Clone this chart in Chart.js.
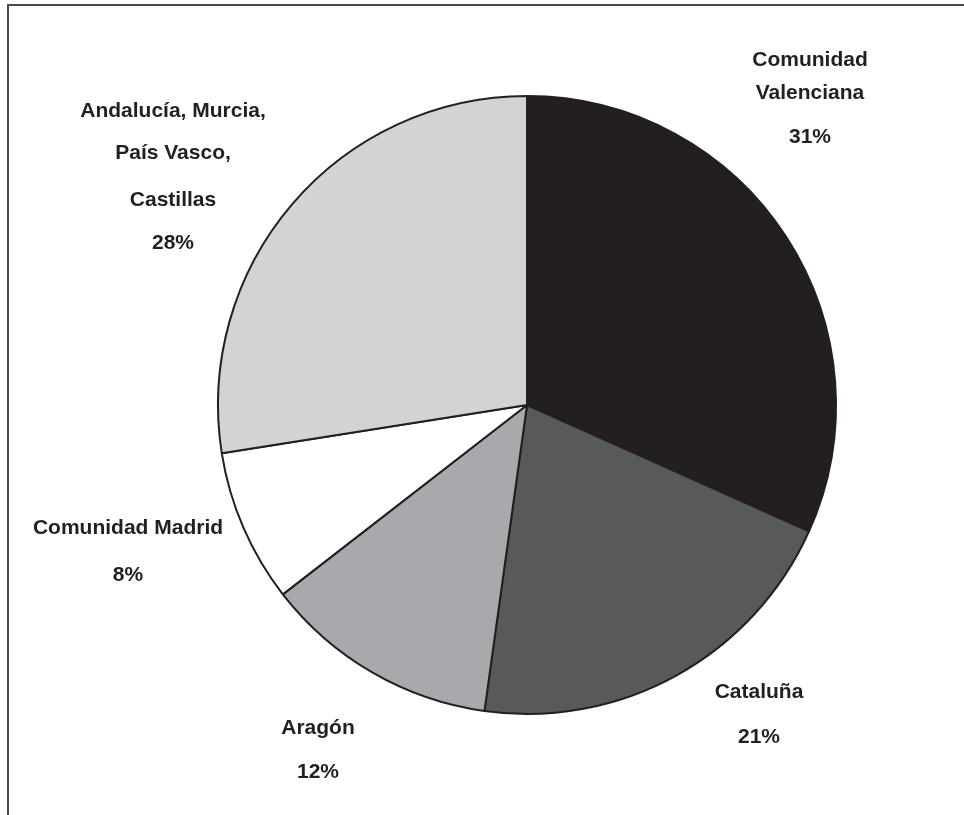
<!DOCTYPE html>
<html>
<head>
<meta charset="utf-8">
<script src="https://cdn.jsdelivr.net/npm/chart.js@4"></script>
<style>
    html, body { margin: 0; padding: 0; background: #fff; }
    #wrap { position: relative; width: 964px; height: 815px; overflow: hidden; }
    #frame {
        position: absolute; left: 7px; top: 4px; width: 970px; height: 830px;
        border-top: 2px solid #4a4a4a; border-left: 2px solid #4a4a4a;
    }
    canvas { position: absolute; left: 0; top: 0; }
</style>
</head>
<body>
<div id="wrap">
    <div id="frame"></div>
    <canvas id="pie" width="964" height="815"></canvas>
</div>
<script>
/* ================================
   Data
================================ */
const regions = ["Comunidad Valenciana", "Cataluña", "Aragón", "Comunidad Madrid", "Andalucía, Murcia, País Vasco, Castillas"];
// slice sizes as drawn in the picture
const shares = [31.7, 20.5, 12.3, 8.0, 27.5];
// percentages printed next to the slices
const percentLabels = ["31%", "21%", "12%", "8%", "28%"];
const sliceColors = ["#231f20", "#58595b", "#a7a9ac", "#ffffff", "#d1d3d4"];

// label text lines for each slice
const labelLines = [
    ["Comunidad", "Valenciana"],
    ["Cataluña"],
    ["Aragón"],
    ["Comunidad Madrid"],
    ["Andalucía, Murcia,", "País Vasco,", "Castillas"]
];

/* ================================
   Label placement (layout only)
================================ */
const labelLayout = [
    { x: 810, ys: [60, 93, 137] },
    { x: 759, ys: [692, 737] },
    { x: 318, ys: [728, 772] },
    { x: 128, ys: [528, 575] },
    { x: 173, ys: [111, 153, 200, 243] }
];

const sliceLabels = {
    id: "sliceLabels",
    afterDatasetsDraw(chart) {
        const ctx = chart.ctx;
        ctx.save();
        ctx.fillStyle = "#231f20";
        ctx.font = "bold 21px 'Liberation Sans', Arial, sans-serif";
        ctx.textAlign = "center";
        ctx.textBaseline = "middle";
        regions.forEach((r, i) => {
            const lines = labelLines[i].concat([percentLabels[i]]);
            const pos = labelLayout[i];
            lines.forEach((t, k) => ctx.fillText(t, pos.x, pos.ys[k]));
        });
        ctx.restore();
    }
};

/* ================================
   Pie chart
================================ */
new Chart(document.getElementById("pie"), {
    type: "pie",
    data: {
        labels: regions,
        datasets: [{
            data: shares,
            backgroundColor: sliceColors,
            borderColor: "#231f20",
            borderWidth: 2
        }]
    },
    options: {
        responsive: false,
        devicePixelRatio: 1,
        animation: false,
        layout: { padding: { left: 217, right: 127, top: 95, bottom: 100 } },
        plugins: {
            legend: { display: false },
            tooltip: { enabled: false }
        }
    },
    plugins: [sliceLabels]
});
</script>
</body>
</html>
